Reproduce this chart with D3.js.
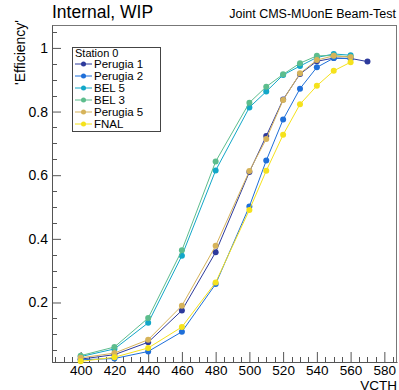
<!DOCTYPE html>
<html>
<head>
<meta charset="utf-8">
<script src="https://cdn.jsdelivr.net/npm/d3@7"></script>
<style>
  body { margin: 0; background: #fff; }
  svg text { font-family: "Liberation Sans", Arial, sans-serif; }
</style>
</head>
<body>
<svg id="chart" width="399" height="390"></svg>
<script>
// data
var vcth = [400, 420, 440, 460, 480, 500, 510, 520, 530, 540, 550, 560, 570];
var seriesNames = ["Perugia 1", "Perugia 2", "BEL 5", "BEL 3", "Perugia 5", "FNAL"];
var seriesColors = ["#2d3a9c", "#1e6fd9", "#12a7c8", "#5dbd8d", "#d6b35a", "#f5e21c"];
var perugia1 = [0.022, 0.036, 0.075, 0.175, 0.358, 0.610, 0.723, 0.838, 0.918, 0.958, 0.968, 0.967, 0.957];
var perugia2 = [0.020, 0.024, 0.046, 0.108, 0.258, 0.502, 0.646, 0.775, 0.872, 0.939, 0.968, 0.966];
var bel5 = [0.030, 0.054, 0.136, 0.347, 0.615, 0.813, 0.863, 0.915, 0.943, 0.970, 0.981, 0.977];
var bel3 = [0.033, 0.060, 0.151, 0.364, 0.643, 0.828, 0.878, 0.917, 0.952, 0.975, 0.976, 0.972];
var perugia5 = [0.026, 0.041, 0.083, 0.190, 0.378, 0.613, 0.714, 0.836, 0.920, 0.962, 0.975, 0.971];
var fnal = [0.015, 0.028, 0.057, 0.123, 0.263, 0.491, 0.614, 0.727, 0.823, 0.881, 0.928, 0.955];
var seriesValues = [perugia1, perugia2, bel5, bel3, perugia5, fnal];
var xTicks = [400, 420, 440, 460, 480, 500, 520, 540, 560, 580];
var yTicks = [0.2, 0.4, 0.6, 0.8, 1];

var margin = { top: 25, right: 2, bottom: 28, left: 52 };
var svg = d3.select("#chart");
var width = +svg.attr("width") - margin.left - margin.right;
var height = +svg.attr("height") - margin.top - margin.bottom;

var xScale = d3.scaleLinear().domain([383, 587.5]).range([0, width]);
var yScale = d3.scaleLinear().domain([0.013, 1.072]).range([height, 0]);

var g = svg.append("g").attr("transform", "translate(" + margin.left + "," + margin.top + ")");

// frame
g.append("rect")
    .attr("x", 0.5).attr("y", 0.5)
    .attr("width", width - 1).attr("height", height)
    .attr("fill", "none").attr("stroke", "#777").attr("stroke-width", 1);

// minor ticks
var xMinor = d3.range(385, 588, 5).filter(function (d) { return d % 20 !== 0; });
var yMinor = d3.range(0.05, 1.07, 0.05).filter(function (d) { return Math.abs(d * 5 - Math.round(d * 5)) > 1e-6; });

g.selectAll(".xminor").data(xMinor).enter().append("line")
    .attr("x1", function (d) { return Math.round(xScale(d)) + 0.5; })
    .attr("x2", function (d) { return Math.round(xScale(d)) + 0.5; })
    .attr("y1", height).attr("y2", height - 5)
    .attr("stroke", "#555");

g.selectAll(".yminor").data(yMinor).enter().append("line")
    .attr("y1", function (d) { return Math.round(yScale(d)) + 0.5; })
    .attr("y2", function (d) { return Math.round(yScale(d)) + 0.5; })
    .attr("x1", 0).attr("x2", 5)
    .attr("stroke", "#555");

var xAxis = d3.axisBottom(xScale).tickValues(xTicks).tickSizeInner(-10).tickSizeOuter(0).tickPadding(3);
var yAxis = d3.axisLeft(yScale).tickValues(yTicks).tickSizeInner(-9).tickSizeOuter(0).tickPadding(4)
    .tickFormat(function (d) { return d === 1 ? "1" : d3.format(".1f")(d); });

var gx = g.append("g").attr("transform", "translate(0," + height + ")").call(xAxis);
var gy = g.append("g").call(yAxis);
[gx, gy].forEach(function (a) {
    a.select(".domain").attr("stroke", "#555");
    a.selectAll(".tick line").attr("stroke", "#555");
    a.selectAll(".tick text").attr("fill", "#000").attr("font-size", 14);
});
gx.selectAll(".tick text").attr("font-size", 13.5);

// series
var line = d3.line()
    .x(function (d) { return xScale(d[0]); })
    .y(function (d) { return yScale(d[1]); });

seriesValues.forEach(function (vals, i) {
    var pts = vals.map(function (v, j) { return [vcth[j], v]; });
    g.append("path")
        .datum(pts)
        .attr("d", line)
        .attr("fill", "none")
        .attr("stroke", seriesColors[i])
        .attr("stroke-width", 1);
    g.selectAll(".pt" + i).data(pts).enter().append("circle")
        .attr("cx", function (d) { return xScale(d[0]); })
        .attr("cy", function (d) { return yScale(d[1]); })
        .attr("r", 3)
        .attr("fill", seriesColors[i]);
});

// legend
var leg = svg.append("g").attr("transform", "translate(72,47)");
leg.append("rect").attr("x", 0.5).attr("y", 0.5).attr("width", 88).attr("height", 84)
    .attr("fill", "#fff").attr("stroke", "#444");
leg.append("text").attr("x", 3).attr("y", 9.5).attr("font-size", 11).text("Station 0");
seriesNames.forEach(function (name, i) {
    var yy = 17 + i * 12;
    leg.append("line").attr("x1", 3).attr("x2", 20).attr("y1", yy).attr("y2", yy)
        .attr("stroke", seriesColors[i]).attr("stroke-width", 1);
    leg.append("circle").attr("cx", 11.5).attr("cy", yy).attr("r", 2.5).attr("fill", seriesColors[i]);
    leg.append("text").attr("x", 22).attr("y", yy + 4).attr("font-size", 11.5).text(name);
});

// titles
svg.append("text").attr("x", 52).attr("y", 18).attr("font-size", 17.5).text("Internal, WIP");
svg.append("text").attr("x", 396).attr("y", 18).attr("font-size", 12.5)
    .attr("text-anchor", "end").text("Joint CMS-MUonE Beam-Test");
svg.append("text").attr("x", 397).attr("y", 389.5).attr("font-size", 13.5)
    .attr("text-anchor", "end").text("VCTH");
svg.append("text").attr("transform", "translate(25,20) rotate(-90)")
    .attr("font-size", 14).attr("text-anchor", "end").text("'Efficiency'");
</script>
</body>
</html>
